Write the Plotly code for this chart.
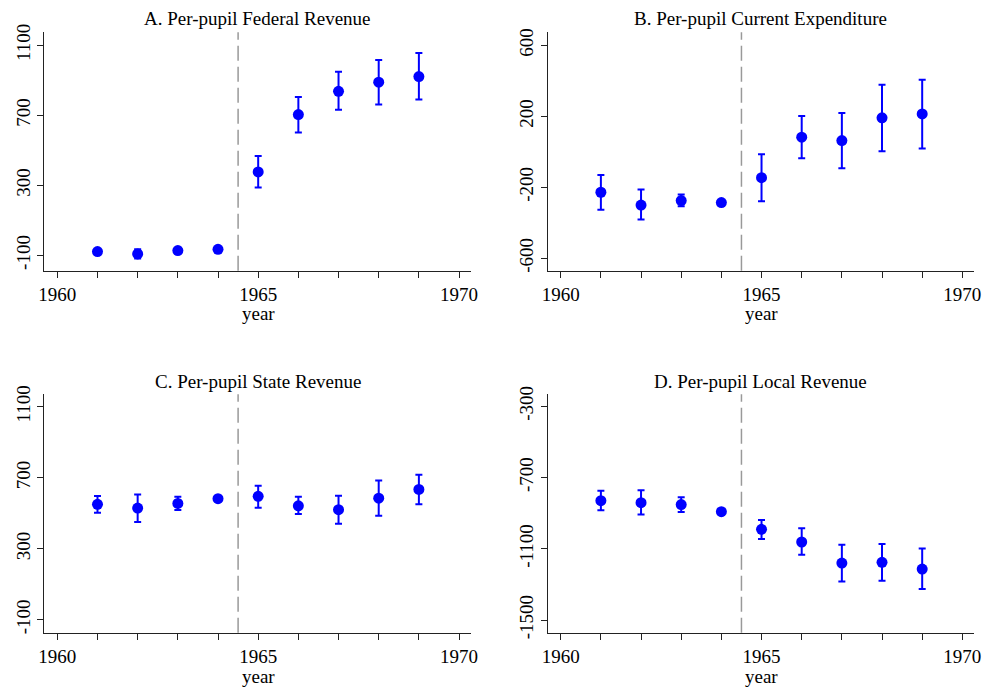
import plotly.graph_objects as go

years = [1961, 1962, 1963, 1964, 1965, 1966, 1967, 1968, 1969]
x_ticks = [1960, 1961, 1962, 1963, 1964, 1965, 1966, 1967, 1968, 1969, 1970]
x_ticklabels = ["1960", "", "", "", "", "1965", "", "", "", "", "1970"]

titles = ["A. Per-pupil Federal Revenue", "B. Per-pupil Current Expenditure",
          "C. Per-pupil State Revenue", "D. Per-pupil Local Revenue"]

# point estimates and confidence bounds
fed_est = [-79, -92, -73, -66, 376, 704, 837, 889, 921]
fed_hi = [-68, -66, -64, -58, 468, 805, 948, 1016, 1056]
fed_lo = [-90, -119, -82, -74, 288, 601, 732, 761, 790]

exp_est = [-228, -300, -275, -286, -146, 82, 63, 191, 213]
exp_hi = [-131, -213, -241, -280, -14, 202, 219, 377, 405]
exp_lo = [-326, -382, -307, -292, -279, -37, -93, 3, 18]

state_est = [550, 529, 555, 582, 595, 542, 520, 585, 634]
state_hi = [597, 606, 593, 588, 655, 593, 599, 685, 717]
state_lo = [503, 450, 518, 576, 531, 495, 441, 486, 550]

local_est = [-830, -841, -852, -892, -991, -1062, -1180, -1176, -1214]
local_hi = [-775, -772, -811, -886, -938, -985, -1077, -1073, -1099]
local_lo = [-884, -907, -893, -898, -1045, -1133, -1283, -1279, -1326]

y_ticks = [[-100, 300, 700, 1100], [-600, -200, 200, 600],
           [-100, 300, 700, 1100], [-1500, -1100, -700, -300]]
y_ticklabels = [["-100", "300", "700", "1100"], ["-600", "-200", "200", "600"],
                ["-100", "300", "700", "1100"], ["-1500", "-1100", "-700", "-300"]]
y_ranges = [[-188, 1174], [-670, 673], [-173, 1170], [-1571, -233]]

series = [(fed_est, fed_hi, fed_lo), (exp_est, exp_hi, exp_lo),
          (state_est, state_hi, state_lo), (local_est, local_hi, local_lo)]

x_doms = [[44.3 / 984, 470.7 / 984], [547.7 / 984, 974 / 984]]
y_doms = [[1 - 270.7 / 688, 1 - 32.3 / 688], [1 - 632.7 / 688, 1 - 394.3 / 688]]
title_y = [1 - 18 / 688, 1 - 381 / 688]
xlabel_y = [1 - 313 / 688, 1 - 676 / 688]

FONT = "Liberation Serif, Times New Roman, serif"
BLUE = "#0000FF"
TXT = "#000"

fig = go.Figure()
for i, (est, hi, lo) in enumerate(series):
    r, c = divmod(i, 2)
    ax = "" if i == 0 else str(i + 1)
    fig.add_trace(go.Scatter(
        x=years, y=est, mode="markers",
        marker=dict(color=BLUE, size=11, symbol="circle"),
        error_y=dict(type="data", symmetric=False,
                     array=[h - e for h, e in zip(hi, est)],
                     arrayminus=[e - l for e, l in zip(est, lo)],
                     color=BLUE, thickness=2, width=3.5),
        xaxis="x" + ax, yaxis="y" + ax, showlegend=False))
    fig.update_layout({
        "xaxis" + ax: dict(domain=x_doms[c], range=[1959.676, 1970.29], anchor="y" + ax,
                           tickvals=x_ticks, ticktext=x_ticklabels, ticks="outside",
                           ticklen=6, tickwidth=1, tickcolor="#222", showgrid=False,
                           zeroline=False, showline=True, linecolor="#222", linewidth=1.3,
                           automargin=False,
                           tickfont=dict(family=FONT, size=19, color=TXT)),
        "yaxis" + ax: dict(domain=y_doms[r], range=y_ranges[i], anchor="x" + ax,
                           tickvals=y_ticks[i], ticktext=y_ticklabels[i],
                           ticks="outside", ticklen=6, tickwidth=1,
                           tickcolor="#222", showgrid=False, zeroline=False, showline=True,
                           linecolor="#222", linewidth=1.3, tickangle=-90, automargin=False,
                           tickfont=dict(family=FONT, size=19, color=TXT)),
    })
    fig.add_shape(type="line", xref="x" + ax, yref="y" + ax + " domain",
                  x0=1964.5, x1=1964.5, y0=0, y1=1,
                  line=dict(color="#999999", width=1.5, dash="15px,6px"))
    fig.add_annotation(text=titles[i], xref="paper", yref="paper",
                       x=(x_doms[c][0] + x_doms[c][1]) / 2, y=title_y[r],
                       xanchor="center", yanchor="middle", showarrow=False,
                       font=dict(family=FONT, size=19, color=TXT))
    fig.add_annotation(text="year", xref="x" + ax, yref="paper",
                       x=1965, y=xlabel_y[r],
                       xanchor="center", yanchor="middle", showarrow=False,
                       font=dict(family=FONT, size=19, color=TXT))

fig.update_layout(width=984, height=688, margin=dict(l=0, r=0, t=0, b=0),
                  paper_bgcolor="white", plot_bgcolor="white",
                  font=dict(family=FONT, size=19, color=TXT))
fig.write_html("out.html", config={"displayModeBar": False},
               post_script="document.body.style.margin='0';document.body.style.overflow='hidden';")
